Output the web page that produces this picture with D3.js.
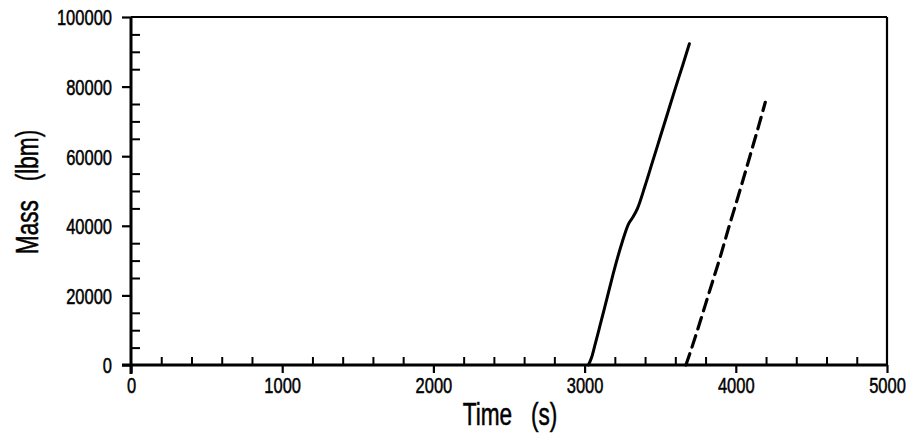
<!DOCTYPE html>
<html>
<head>
<meta charset="utf-8">
<script src="https://cdn.jsdelivr.net/npm/d3@7"></script>
<style>
  html, body { margin: 0; padding: 0; background: #fff; }
  svg { display: block; }
  text { font-family: "Liberation Sans", Arial, sans-serif; fill: #000; stroke: #000; stroke-width: 0.5px; }
</style>
</head>
<body>
<svg id="chart" width="909" height="435"></svg>
<script>
// ---- data ----
const solidTime = [3025, 3045, 3070, 3100, 3150, 3200, 3250, 3290, 3320, 3350, 3400, 3450, 3500, 3550, 3600, 3650, 3693];
const solidMass = [0, 2000, 6000, 11000, 19500, 28000, 35500, 40500, 42500, 45000, 51500, 58500, 65500, 72500, 79500, 86300, 92300];
const dashedTime = [3670, 3700, 3750, 3800, 3850, 3900, 3950, 4000, 4050, 4100, 4150, 4195];
const dashedMass = [0, 3800, 10500, 17500, 24500, 31500, 39000, 46200, 53500, 61000, 68500, 75500];
const xTicks = [0, 1000, 2000, 3000, 4000, 5000];
const yTicks = [0, 20000, 40000, 60000, 80000, 100000];
const xTitle = "Time   (s)";
const yTitle = "Mass   (lbm)";

const SX = 0.75; // horizontal condensing of the plot font

const svg = d3.select("#chart");
const x = d3.scaleLinear().domain([0, 5000]).range([131, 887]);
const y = d3.scaleLinear().domain([0, 100000]).range([365, 17]);

// frame: top and right
svg.append("line").attr("x1", x(0)).attr("x2", x(5000)).attr("y1", y(100000)).attr("y2", y(100000))
  .attr("stroke", "#000").attr("stroke-width", 2.2);
svg.append("line").attr("x1", x(5000)).attr("x2", x(5000)).attr("y1", y(100000)).attr("y2", y(0))
  .attr("stroke", "#000").attr("stroke-width", 2.2);

// x axis: major ticks outward, minor inward
const xAxisMajor = d3.axisBottom(x).tickValues(xTicks).tickSize(8).tickSizeOuter(0).tickFormat(d3.format("d"));
const gx = svg.append("g").attr("transform", `translate(0,${y(0)})`).call(xAxisMajor);
gx.select(".domain").attr("stroke-width", 3).attr("d", `M${x(0) - 9},0H${x(5000)}`);
gx.selectAll(".tick line").attr("stroke-width", 2.2);
gx.selectAll(".tick text").attr("font-size", 22).attr("font-family", null)
  .attr("y", 0).attr("dy", null).attr("transform", `translate(0,28) scale(${SX},1)`);

const xMinor = d3.range(0, 5001, 200).filter(v => v % 1000 !== 0);
const gxm = svg.append("g").attr("transform", `translate(0,${y(0)})`)
  .call(d3.axisTop(x).tickValues(xMinor).tickSize(8).tickFormat(""));
gxm.select(".domain").remove();
gxm.selectAll(".tick line").attr("stroke-width", 2);

// y axis
const yAxisMajor = d3.axisLeft(y).tickValues(yTicks).tickSize(9).tickSizeOuter(0).tickFormat(d3.format("d"));
const gy = svg.append("g").attr("transform", `translate(${x(0)},0)`).call(yAxisMajor);
gy.select(".domain").attr("stroke-width", 3).attr("d", `M0,${y(0) + 9}V${y(100000)}`);
gy.selectAll(".tick line").attr("stroke-width", 2.2);
gy.selectAll(".tick text").attr("font-size", 22).attr("font-family", null)
  .attr("x", 0).attr("dy", "0.36em").attr("transform", `translate(-19,0) scale(${SX},1)`);

const yMinor = d3.range(0, 100001, 5000).filter(v => v % 20000 !== 0);
const gym = svg.append("g").attr("transform", `translate(${x(0)},0)`)
  .call(d3.axisRight(y).tickValues(yMinor).tickSize(9).tickFormat(""));
gym.select(".domain").remove();
gym.selectAll(".tick line").attr("stroke-width", 2);

// lines
const line = d3.line().x(d => x(d[0])).y(d => y(d[1])).curve(d3.curveMonotoneX);
const solid = solidTime.map((t, i) => [t, solidMass[i]]);
const dashed = dashedTime.map((t, i) => [t, dashedMass[i]]);
svg.append("path").datum(solid).attr("d", line).attr("fill", "none").attr("stroke", "#000")
  .attr("stroke-width", 3).attr("stroke-linecap", "round");
svg.append("path").datum(dashed).attr("d", line).attr("fill", "none").attr("stroke", "#000")
  .attr("stroke-width", 3.2).attr("stroke-dasharray", "12,7").attr("stroke-linecap", "round");

// titles
svg.append("text").attr("transform", `translate(510,425) scale(0.73,1)`).attr("text-anchor", "middle")
  .attr("font-size", 31).style("white-space", "pre").text(xTitle);
svg.append("text").attr("transform", `translate(38,192) rotate(-90) scale(0.73,1)`).attr("text-anchor", "middle")
  .attr("font-size", 31).style("white-space", "pre").text(yTitle);
</script>
</body>
</html>
